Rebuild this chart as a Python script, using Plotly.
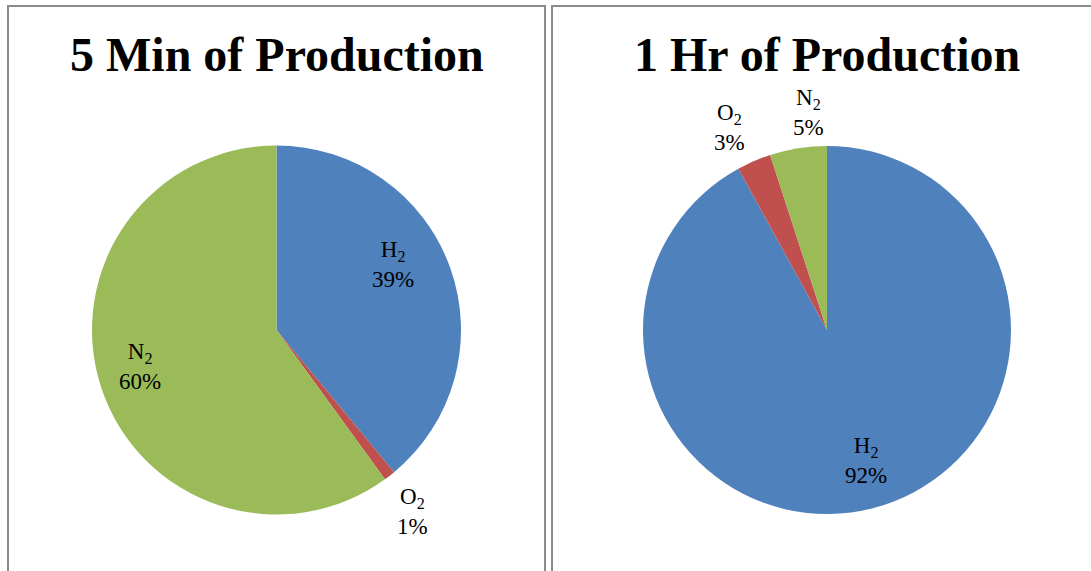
import plotly.graph_objects as go

W, H = 1091, 571

# Gas composition of the product stream
gases = ["H<sub>2</sub>", "O<sub>2</sub>", "N<sub>2</sub>"]
share_5min = [39, 1, 60]
share_1hr = [92, 3, 5]
titles = ["5 Min of Production", "1 Hr of Production"]

colors = ["#4F81BD", "#C0504D", "#9BBB59"]
FONT = "Liberation Serif, Times New Roman, serif"


def px_x(p):
    return p / W


def px_y(p):
    return 1 - p / H


# Pie placement (centre and radius in pixels) for each panel
pies = [
    dict(cx=276.5, cy=330, r=184.5),
    dict(cx=827, cy=330, r=184),
]

# Data-label anchor points (pixels) for each slice, in slice order
label_pos = [
    [(393, 264), (412, 511), (140, 366)],
    [(866, 460), (729, 127), (808, 112)],
]

fig = go.Figure()

for series, p in zip([share_5min, share_1hr], pies):
    fig.add_trace(go.Pie(
        labels=gases,
        values=series,
        sort=False,
        direction="clockwise",
        rotation=0,
        marker=dict(colors=colors, line=dict(width=0)),
        textinfo="none",
        hoverinfo="label+percent",
        showlegend=False,
        domain=dict(
            x=[px_x(p["cx"] - p["r"]), px_x(p["cx"] + p["r"])],
            y=[px_y(p["cy"] + p["r"]), px_y(p["cy"] - p["r"])],
        ),
    ))

annotations = []
for series, positions, title, p in zip([share_5min, share_1hr], label_pos, titles, pies):
    total = sum(series)
    for name, v, (lx, ly) in zip(gases, series, positions):
        annotations.append(dict(
            x=px_x(lx), y=px_y(ly), xref="paper", yref="paper",
            text=f"{name}<br>{v / total * 100:.0f}%",
            showarrow=False, xanchor="center", yanchor="middle",
            font=dict(family=FONT, size=23, color="black"),
        ))
    annotations.append(dict(
        x=px_x(p["cx"]), y=px_y(55), xref="paper", yref="paper",
        text=f"<b>{title}</b>", showarrow=False,
        xanchor="center", yanchor="middle",
        font=dict(family=FONT, size=48, color="black"),
    ))

# Panel frames
border = dict(color="#8C8C8C", width=2)
shapes = [
    dict(type="path", xref="paper", yref="paper",
         path=f"M {px_x(8)},{px_y(575)} L {px_x(8)},{px_y(6)} L {px_x(545)},{px_y(6)} L {px_x(545)},{px_y(575)}",
         line=border),
    dict(type="path", xref="paper", yref="paper",
         path=f"M {px_x(552)},{px_y(575)} L {px_x(552)},{px_y(6)} L {px_x(1095)},{px_y(6)}",
         line=border),
]

fig.update_layout(
    width=W, height=H,
    margin=dict(l=0, r=0, t=0, b=0),
    paper_bgcolor="white",
    plot_bgcolor="white",
    annotations=annotations,
    shapes=shapes,
)

fig.write_html("out.html")
